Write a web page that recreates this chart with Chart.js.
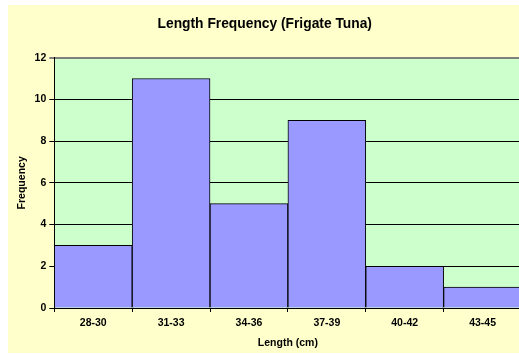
<!DOCTYPE html>
<html>
<head>
<meta charset="utf-8">
<script src="https://cdn.jsdelivr.net/npm/chart.js@4"></script>
<style>
  html, body { margin: 0; padding: 0; background: #ffffff; overflow: hidden; width: 519px; height: 354px; }
  #wrap { position: absolute; left: 8px; top: 5px; width: 519px; height: 348px; }
  canvas { display: block; }
</style>
</head>
<body>
<div id="wrap"><canvas id="c" width="519" height="348"></canvas></div>
<script>
// Length classes (cm) and how many fish fell in each
const lengthClasses = ['28-30', '31-33', '34-36', '37-39', '40-42', '43-45'];
const frequencies = [3, 11, 5, 9, 2, 1];
const yTicks = [0, 2, 4, 6, 8, 10, 12];

const FONT = "'Liberation Sans', Arial, sans-serif";

// Paints the pale yellow chart background and the green plot area
const backgrounds = {
  id: 'backgrounds',
  beforeDraw(chart) {
    const { ctx, chartArea: a } = chart;
    ctx.save();
    ctx.fillStyle = '#FFFFCC';
    ctx.fillRect(0, 0, chart.width, chart.height);
    ctx.fillStyle = '#CCFFCC';
    ctx.fillRect(a.left, a.top, a.right - a.left, a.bottom - a.top);
    ctx.restore();
  }
};

new Chart(document.getElementById('c'), {
  type: 'bar',
  data: {
    labels: lengthClasses,
    datasets: [{
      data: frequencies,
      backgroundColor: '#9999FF',
      borderColor: '#000000',
      borderWidth: 1,
      borderSkipped: 'start',
      categoryPercentage: 1.0,
      barPercentage: 1.0
    }]
  },
  options: {
    responsive: false,
    animation: false,
    devicePixelRatio: 1,
    layout: { padding: { left: 0, right: 5.5, top: 0, bottom: 0 } },
    plugins: {
      legend: { display: false },
      tooltip: { enabled: false },
      title: {
        display: true,
        text: 'Length Frequency (Frigate Tuna)',
        color: '#000000',
        font: { family: FONT, size: 13.8, weight: 'bold' },
        padding: { top: 11.2, bottom: 24.9 }
      }
    },
    scales: {
      x: {
        type: 'category',
        offset: true,
        afterFit(scale) { scale.height = 45; },
        grid: {
          offset: true,
          drawOnChartArea: false,
          drawTicks: true,
          tickLength: 4,
          color: '#000000'
        },
        border: { display: true, color: '#000000', width: 1 },
        ticks: {
          color: '#000000',
          padding: 5,
          maxRotation: 0,
          font: { family: FONT, size: 10.5, weight: 'bold' }
        },
        title: {
          display: true,
          text: 'Length (cm)',
          color: '#000000',
          font: { family: FONT, size: 10.5, weight: 'bold' },
          padding: { top: 0, bottom: 4 }
        }
      },
      y: {
        min: 0,
        max: 12,
        afterFit(scale) { scale.width = 46.3; },
        afterBuildTicks(scale) { scale.ticks = yTicks.map(v => ({ value: v })); },
        grid: {
          drawTicks: true,
          tickLength: 5,
          color: ctx => (ctx.tick && ctx.tick.value === 12) ? '#808080' : '#000000',
          lineWidth: ctx => (ctx.tick && ctx.tick.value === 12) ? 2 : 1
        },
        border: { display: true, color: '#000000', width: 1 },
        ticks: {
          color: '#000000',
          padding: 3,
          font: { family: FONT, size: 10.5, weight: 'bold' }
        },
        title: {
          display: true,
          text: 'Frequency',
          color: '#000000',
          font: { family: FONT, size: 10.5, weight: 'bold' },
          padding: { top: 8.2, bottom: 0 }
        }
      }
    }
  },
  plugins: [backgrounds]
});
</script>
</body>
</html>
